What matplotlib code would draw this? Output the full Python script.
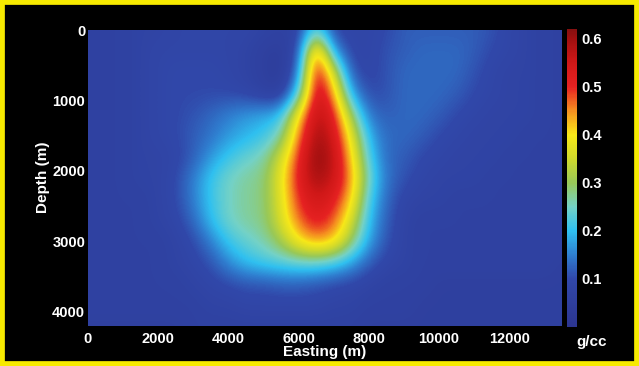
import numpy as np
import matplotlib
matplotlib.use('Agg')
import matplotlib.pyplot as plt
from matplotlib.colors import LinearSegmentedColormap
from matplotlib.patches import Rectangle

# grid nodes (m)
easting = np.arange(0, 13501, 500)
depth = np.arange(0, 4201, 300)

density = [
    [.07,.07,.07,.08,.08,.09,.09,.09,.09,.09,.08,.07,.08,.24,.09,.09,.09,.10,.12,.12,.12,.12,.12,.11,.09,.08,.07,.07],
    [.07,.07,.07,.08,.09,.09,.09,.09,.09,.08,.06,.05,.10,.50,.17,.09,.09,.11,.12,.13,.13,.13,.12,.10,.09,.08,.07,.07],
    [.07,.07,.07,.08,.09,.10,.10,.10,.09,.08,.06,.04,.14,.56,.36,.11,.09,.11,.13,.13,.13,.13,.11,.09,.08,.08,.07,.07],
    [.07,.07,.07,.08,.09,.10,.10,.10,.10,.09,.07,.06,.22,.57,.45,.18,.10,.11,.13,.13,.13,.12,.10,.09,.08,.08,.07,.07],
    [.07,.07,.07,.08,.09,.10,.11,.13,.15,.17,.18,.20,.40,.58,.52,.30,.14,.12,.13,.13,.12,.10,.09,.08,.08,.08,.07,.07],
    [.07,.07,.07,.08,.09,.10,.12,.14,.17,.19,.21,.26,.46,.60,.55,.38,.19,.13,.13,.12,.10,.09,.08,.08,.08,.07,.07,.07],
    [.07,.07,.07,.08,.08,.09,.12,.17,.21,.24,.26,.35,.50,.62,.57,.42,.22,.13,.12,.10,.09,.08,.08,.08,.07,.07,.07,.07],
    [.07,.07,.07,.08,.08,.10,.15,.21,.25,.27,.28,.38,.52,.60,.56,.45,.25,.14,.11,.09,.08,.08,.08,.07,.07,.07,.07,.07],
    [.07,.07,.07,.07,.08,.10,.15,.21,.25,.27,.28,.37,.50,.55,.52,.42,.22,.13,.09,.08,.08,.07,.07,.07,.07,.07,.07,.07],
    [.07,.07,.07,.07,.08,.09,.13,.20,.25,.27,.28,.36,.47,.52,.48,.36,.20,.12,.08,.07,.07,.07,.07,.07,.07,.07,.07,.07],
    [.07,.07,.07,.07,.07,.08,.10,.15,.21,.24,.26,.31,.40,.45,.42,.30,.18,.11,.08,.07,.07,.07,.07,.07,.07,.07,.07,.07],
    [.07,.07,.07,.07,.07,.08,.09,.11,.16,.20,.22,.23,.24,.24,.22,.18,.12,.09,.08,.07,.07,.07,.07,.07,.07,.07,.07,.06],
    [.07,.07,.07,.07,.07,.07,.08,.09,.10,.11,.11,.12,.12,.11,.10,.09,.08,.07,.07,.07,.06,.06,.06,.06,.06,.06,.06,.06],
    [.07,.07,.07,.07,.07,.07,.07,.08,.08,.09,.09,.09,.09,.09,.08,.08,.07,.07,.07,.06,.06,.06,.06,.06,.06,.06,.06,.06],
    [.06,.06,.06,.06,.06,.06,.07,.07,.07,.07,.07,.07,.07,.07,.07,.07,.06,.06,.06,.06,.06,.06,.06,.06,.06,.06,.06,.06],
]

x_ticks = [0, 2000, 4000, 6000, 8000, 10000, 12000]
y_ticks = [0, 1000, 2000, 3000, 4000]
cbar_ticks = [0.1, 0.2, 0.3, 0.4, 0.5, 0.6]

vmin, vmax = 0.0, 0.62
stops = [
    (0.00, '#2c3590'),
    (0.10, '#3148aa'),
    (0.15, '#2f7fd0'),
    (0.20, '#2fc0f0'),
    (0.25, '#74d2c6'),
    (0.30, '#98c858'),
    (0.35, '#cfd92c'),
    (0.40, '#f8e818'),
    (0.45, '#f59020'),
    (0.50, '#e62222'),
    (0.55, '#d01818'),
    (0.60, '#a01010'),
    (0.62, '#851010'),
]
cmap = LinearSegmentedColormap.from_list('gcc', [((v - vmin) / (vmax - vmin), c) for v, c in stops])

plt.rcParams['font.family'] = ['Liberation Sans', 'DejaVu Sans']
plt.rcParams['font.weight'] = 'bold'

fig = plt.figure(figsize=(6.39, 3.66), dpi=100)
fig.patch.set_facecolor('black')

ax = fig.add_axes([88/639, 1 - 326/366, 474/639, 296/366])
ax.set_facecolor('black')

dx = easting[1] - easting[0]
dy = depth[1] - depth[0]
im = ax.imshow(np.array(density), cmap=cmap, vmin=vmin, vmax=vmax,
               interpolation='bicubic', aspect='auto', origin='upper',
               extent=[easting[0] - dx/2, easting[-1] + dx/2,
                       depth[-1] + dy/2, depth[0] - dy/2])
ax.set_xlim(0, 13500)
ax.set_ylim(4200, 0)

ax.set_xticks(x_ticks)
ax.set_yticks(y_ticks)
ax.tick_params(colors='white', length=0, labelsize=10.5)
ax.tick_params(axis='x', pad=4)
ax.tick_params(axis='y', pad=2)
for sp in ax.spines.values():
    sp.set_visible(False)

fig.text(325/639, 1 - 352/366, 'Easting (m)', color='white', fontsize=11,
         fontweight='bold', ha='center', va='center')
fig.text(43/639, 1 - 177/366, 'Depth (m)', color='white', fontsize=11,
         fontweight='bold', ha='center', va='center', rotation=90)

cax = fig.add_axes([567/639, 1 - 327/366, 10/639, 298/366])
cb = fig.colorbar(im, cax=cax, ticks=cbar_ticks)
cb.outline.set_visible(False)
cb.ax.tick_params(colors='white', length=0, labelsize=10.5, pad=3)
fig.text(592/639, 1 - 342/366, 'g/cc', color='white', fontsize=11,
         fontweight='bold', ha='center', va='center')

# yellow frame round the whole figure
fig.patches.append(Rectangle((0, 0), 1, 1, transform=fig.transFigure,
                             fill=False, edgecolor='#f7ea00', linewidth=7))

fig.savefig('out.png', dpi=100, facecolor=fig.get_facecolor())
